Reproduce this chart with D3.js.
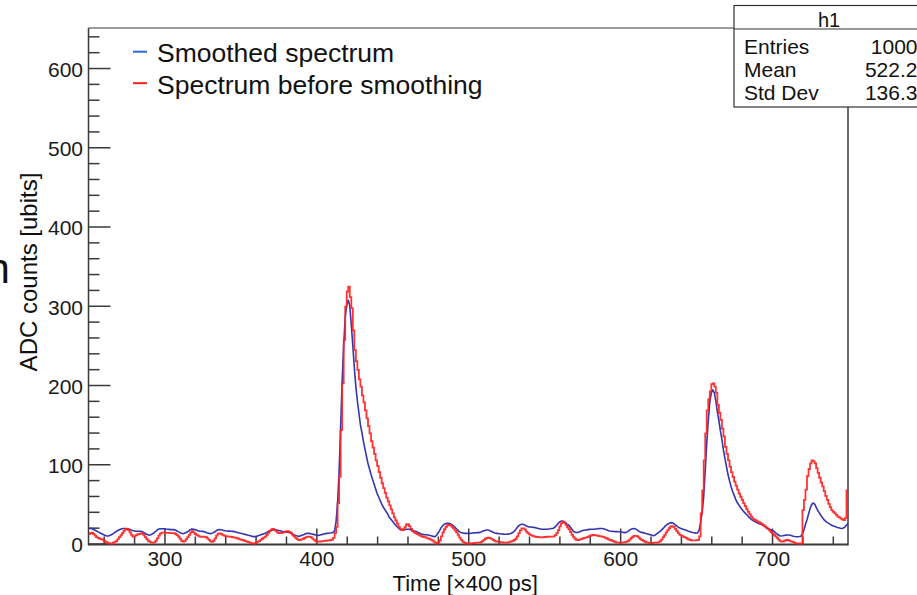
<!DOCTYPE html>
<html>
<head>
<meta charset="utf-8">
<script src="https://cdn.jsdelivr.net/npm/d3@7"></script>
<style>
  html, body { margin: 0; padding: 0; background: #ffffff; }
  svg { display: block; font-family: "Liberation Sans", Arial, Helvetica, sans-serif; }
</style>
</head>
<body>
<svg id="chart" width="917" height="595"></svg>
<script>
// ADC waveform: one value per 400 ps time bin, starting at bin 250
const firstBin = 250;

// Raw waveform (drawn as histogram steps), bins 250..749
const rawCounts = [
  12,13,13.7,12,10,8,7,6,5.5,5,
  3.5,2,1,0.5,0,0,1,2,3,5.5,
  8,10.5,13,16,18,18.5,17,14,11,8.6,
  9,10.5,11.5,12,12.5,12.8,11,8,5.5,3.5,
  2.3,1.5,1,1.5,3.5,6.5,10,12.5,13.7,13.8,
  13.7,13.5,13.5,13.3,13.2,13,13,12,10.5,8.5,
  6,3.5,2.3,3,5.5,8,11,14,15.6,14,
  12,10.5,9.5,8.6,8.5,8.5,8.3,8,6.5,4.5,
  2.8,2,3.5,6.5,10,12.5,12.8,12,11,10,
  9.3,9,8.8,8.6,8.2,7.8,7.3,7,6.3,5.5,
  5,4.4,3.8,3,2.3,1.8,1.2,0.6,0,0,
  1,2,3,4.5,6,7.5,8.6,11,13.5,16,
  17.5,18.3,17.5,16,14,13,13,13.5,14,15,
  15.6,15.6,14.5,13,11,9,7,5.5,4.4,4.5,
  5.3,6,7,8,8.6,8.6,8,6.5,5,3.5,
  2.5,2.3,2.5,2.8,3,3.2,3.5,3.8,4,4.4,
  5,7,13,21,51,84,143,202,257,299,
  318,324,311,297,269,244,230,219,207,198,
  187,178,168,158,148,139,129,121,113,105,
  98,90,83,76,70,64,58,53,48,43,
  38,33,29,25,21,18,17,18,21,24,
  24.5,22,18.5,15.5,14,13,12,11,10,9,
  8.5,8,7.5,6.5,6,5,4,2.5,1,0,
  1,4,9,14,18,21,23,23.5,23,21,
  19,16.5,14,11,7.5,4.5,2.3,1,0.3,0,
  0,0,0.3,0.6,0.8,1,1,1,1.8,3,
  4.5,6,7,7.3,6.8,5.8,4.5,3.3,2.5,2.3,
  2,1.6,1.3,1,1,1,1.5,2,2.8,3.5,
  4.4,6,9,13,16.5,19,19,17.5,15,13,
  11.5,10.5,9.7,9,8.5,8.2,8,7.8,7.8,8,
  8.2,8.4,8.5,8.6,8.7,8.7,9,10.5,13,17,
  21.5,25.5,27.5,26.5,23.5,20.5,18,14.5,11,8,
  6,4.4,4.2,4.8,5.6,6.3,7,7.3,8,9,
  9.8,10.4,10.7,10.6,10.2,9.8,9.4,9,8.7,8,
  7.2,6.3,5.3,4.4,3.8,3,2.2,1.5,1,1,
  1,1,1.3,1.8,2.3,3.5,5,7,8.5,9.5,
  9.7,9,7.3,5.5,4.4,3.2,2.2,1.5,1,0.5,
  0.5,0.8,1,1,1,1.8,3,5,8,11,
  14,17,19.5,21.5,22,21,18.5,15.5,13,11,
  10,9,8,7,6,5,4.4,4,4,4,
  4.2,4.6,9,38,67,105,139,168,182,192,
  201,202,198,190,175,165,156,145,135,122,
  113,105,97,90,84,78,73,68,63,59,
  55,51,47,43,40,37,34,31.5,30,29,
  28,27,26,24.5,23,21.5,20,18.5,16.5,14.5,
  12.5,10.7,9,7,5,3,2.3,2.6,3.5,4.4,
  4.4,3.6,2.8,2.3,1.5,0.5,0,0,0,0,
  42,55,68,85,94,101,105,104,101,95,
  89,83,77,72,66,60,55,50,46,42,
  40,38,36,34,33,31.5,30.5,29.6,32,67
];

// Smoothed waveform (drawn as a polyline), times 250..750
const smoothCounts = [
  19,19,19,18,17,16,15,14,13,12,
  11,10,9.5,9.5,10,11,12,13.5,15,16,
  17,18,18.5,19,19,19,18.5,18,17,16.5,
  16,15.5,15.5,15.5,15.5,15,14.5,13,12,11,
  10.5,11,12,13.5,15,16.5,18,18.5,18.7,18.6,
  18.5,18.2,18,17.8,17.5,17.5,17.5,17,16,15,
  14,13,12.5,12.8,13.5,14.5,16,17.5,18.3,18,
  17.5,17,16,15.6,15.5,15.3,15,14.3,13.5,13,
  12.5,12.8,13.5,14.5,16,17,17.5,17.3,17,16.5,
  16,15.8,15.6,15.6,15.5,15.3,15,14.5,14,13.5,
  13,12.5,12,11.5,11,10.5,10,9.5,9,8.7,
  8.7,9.3,10,10.8,11.5,12,12.5,13.5,14.5,15.5,
  16.5,17.2,17.5,17.3,17,16.5,16,15.5,15,14.7,
  14.5,14.2,14,13.3,12.5,11.5,10.5,9.7,9,9.3,
  10,10.8,11.5,12.3,13,12.8,12.5,12,11.5,11,
  10.5,10.3,10.5,11,11.5,12,12.5,12.8,13,13.3,
  13.5,14,16,28,52,92,148,205,250,285,
  302,307,300,276,250,222,198,180,165,150,
  140,129,119,110,101,94,87,81,75,69,
  63,59,54,50,46,43,40,37,33,31,
  28.5,26,23.5,21.5,19.5,18,17,17,17.5,18,
  18,18,17.5,17,16,15.5,15,14,13,12,
  11.5,11,11,11,10.5,10,9.5,9,8.6,10,
  13,16,19.5,22,24,25,25.5,25.5,25,24,
  22.5,21,19,17,15,14,13.5,13,12.8,12.8,
  12.8,12.8,13,13.2,13.4,13.6,13.7,13.7,14,15,
  16,16.5,17,17,16.5,15.5,14.5,13.5,13,12.8,
  12.5,12.3,12,11.8,11.6,11.6,11.8,12,12.5,13.5,
  15,17,19.5,22,23.5,24.2,24.2,23.5,22.5,21.5,
  21,20.8,20.5,20.4,20,19.5,19,18.5,18,18,
  18,18,18,18.3,18.6,19,19.3,20.5,22.5,25,
  27,28,28.4,27.5,26,24.5,23.3,21,18.5,16,
  14.5,13.8,14,14.5,15.5,16.2,16.8,17,17.2,17.5,
  17.8,18,18,18,18.3,18.6,18.8,19,19,18.6,
  18,17.2,16.5,15.8,15.5,15.3,15.1,15,15,14.9,
  14.8,14.5,14,13.7,14,15,16.5,17.8,18.7,19,
  18.5,17.5,16,14.9,14,13.7,13.2,12.5,12,11.5,
  11,10.5,9.8,10.5,12,13.5,14.8,16.5,18.5,20.5,
  22.5,24,25.3,26,26.3,25.5,24,22.5,21,19.8,
  19,18.3,17.7,17,16.3,15.5,14.9,14.3,13.8,13.4,
  13,13.5,17,27,40,59,92,126,155,178,
  190,194,190,180,166,155,142,131,118,107,
  97,87,79,72,66,61,56,52,49,46,
  43.5,41,39,37,35,33,31,29.5,28.3,27.5,
  26.5,25.5,24.5,24,23.3,22,20.5,19.5,18.5,17.5,
  17,15.5,14,12.5,11,9.8,9.5,9.8,10.2,10.6,
  10.8,10.7,10.3,9.8,9.2,8.8,8.6,8.6,8.8,9.2,
  12,17,24,30,37,44,49,51,50,46,
  42,39,36,33,30.5,28.5,27,25.8,24.5,23.3,
  22.5,21.8,21,20.3,19.8,19.3,19,19.5,21,23,
  25.5
];

// Axis ranges and ticks
const xRange = [250, 750];
const yRange = [0, 650];
const xMajorTicks = [300, 400, 500, 600, 700];
const xMinorTicks = [260, 280, 320, 340, 360, 380, 420, 440, 460, 480, 520, 540, 560, 580, 620, 640, 660, 680, 720, 740];
const yMajorTicks = [0, 100, 200, 300, 400, 500, 600];
const yMinorTicks = [20, 40, 60, 80, 120, 140, 160, 180, 220, 240, 260, 280, 320, 340, 360, 380, 420, 440, 460, 480, 520, 540, 560, 580, 620, 640];

// Legend and statistics box
const seriesNames = ["Smoothed spectrum", "Spectrum before smoothing"];
const seriesColors = ["#3535b0", "#ff2222"];
const legendColors = ["#2a68dc", "#ff1c1c"];
const statsTitle = "h1";
const statLabels = ["Entries", "Mean", "Std Dev"];
const statValues = ["1000", "522.2", "136.3"];

const xTitle = "Time [\u00d7400 ps]";
const yTitle = "ADC counts [ubits]";

const svg = d3.select("#chart");
const frame = { left: 88.5, right: 848, top: 28, bottom: 543.5 };

const x = d3.scaleLinear().domain(xRange).range([frame.left, frame.right]);
const y = d3.scaleLinear().domain(yRange).range([frame.bottom, frame.top + 0.4]);

const axisColor = "#3a3a3a";

// Clip curves to the plotting frame
svg.append("clipPath").attr("id", "frameClip")
  .append("rect")
  .attr("x", frame.left).attr("y", frame.top)
  .attr("width", frame.right - frame.left).attr("height", frame.bottom - frame.top + 2);

// Stray glyph cut by the left border
svg.append("text")
  .attr("x", -13.5).attr("y", 283)
  .attr("font-size", 42).attr("fill", "#111")
  .text("n");

// Frame lines
svg.append("line").attr("x1", frame.left).attr("x2", frame.left)
  .attr("y1", frame.top).attr("y2", frame.bottom + 2)
  .attr("stroke", axisColor).attr("stroke-width", 1.5);
svg.append("line").attr("x1", frame.left).attr("x2", frame.right)
  .attr("y1", frame.top).attr("y2", frame.top)
  .attr("stroke", axisColor).attr("stroke-width", 1.2);
svg.append("line").attr("x1", frame.right).attr("x2", frame.right)
  .attr("y1", frame.top).attr("y2", frame.bottom + 2)
  .attr("stroke", axisColor).attr("stroke-width", 1.5);

// X axis: major and minor ticks pointing into the frame
const xAxisY = frame.bottom + 1;
const gxMinor = svg.append("g").attr("transform", `translate(0,${xAxisY})`)
  .call(d3.axisBottom(x).tickValues(xMinorTicks).tickSize(-8).tickFormat(""));
const gxMajor = svg.append("g").attr("transform", `translate(0,${xAxisY})`)
  .call(d3.axisBottom(x).tickValues(xMajorTicks).tickSize(-16).tickPadding(7).tickFormat(d3.format("d")));

// Y axis
const gyMinor = svg.append("g").attr("transform", `translate(${frame.left},0)`)
  .call(d3.axisLeft(y).tickValues(yMinorTicks).tickSize(-11).tickFormat(""));
const gyMajor = svg.append("g").attr("transform", `translate(${frame.left},0)`)
  .call(d3.axisLeft(y).tickValues(yMajorTicks).tickSize(-22).tickPadding(5.5).tickFormat(d3.format("d")));

[gxMinor, gxMajor, gyMinor, gyMajor].forEach(g => {
  g.select(".domain").remove();
  g.selectAll(".tick line").attr("stroke", axisColor).attr("stroke-width", 1.5);
  g.selectAll(".tick text")
    .attr("font-family", "Liberation Sans, Arial, sans-serif")
    .attr("font-size", 21).attr("fill", "#1a1a1a");
});
gyMajor.selectAll(".tick text").attr("dy", "0.4em");

// Bottom axis line
svg.append("line").attr("x1", frame.left).attr("x2", frame.right)
  .attr("y1", xAxisY).attr("y2", xAxisY)
  .attr("stroke", axisColor).attr("stroke-width", 2.2);

// Curves
const plot = svg.append("g").attr("clip-path", "url(#frameClip)");

const rawPoints = rawCounts.map((v, i) => [firstBin + i, v]);
rawPoints.push([firstBin + rawCounts.length, rawCounts[rawCounts.length - 1]]);
const smoothPoints = smoothCounts.map((v, i) => [firstBin + i, v]);

const stepLine = d3.line().x(d => x(d[0])).y(d => y(d[1])).curve(d3.curveStepAfter);
const smoothLine = d3.line().x(d => x(d[0])).y(d => y(d[1])).curve(d3.curveLinear);

plot.append("path").datum(smoothPoints)
  .attr("d", smoothLine)
  .attr("fill", "none").attr("stroke", seriesColors[0])
  .attr("stroke-width", 1.6).attr("stroke-linejoin", "round");

plot.append("path").datum(rawPoints)
  .attr("d", stepLine)
  .attr("fill", "none").attr("stroke", seriesColors[1])
  .attr("stroke-width", 1.8).attr("opacity", 0.92);

// Legend
const legend = svg.append("g");
seriesNames.forEach((name, i) => {
  const ly = 51.7 + i * 31.5;
  legend.append("line")
    .attr("x1", 133).attr("x2", 147).attr("y1", ly).attr("y2", ly)
    .attr("stroke", legendColors[i]).attr("stroke-width", 2);
  legend.append("text")
    .attr("x", 157).attr("y", ly + 10.5)
    .attr("font-size", 26.5).attr("fill", "#111")
    .text(name);
});

// Statistics box
const box = { x: 734, y: 5.5, w: 192, h: 101.5 };
const stats = svg.append("g");
stats.append("rect")
  .attr("x", box.x).attr("y", box.y).attr("width", box.w).attr("height", box.h)
  .attr("fill", "#ffffff").attr("stroke", "#333").attr("stroke-width", 1.2);
stats.append("line")
  .attr("x1", box.x).attr("x2", box.x + box.w).attr("y1", 29).attr("y2", 29)
  .attr("stroke", "#333").attr("stroke-width", 1.2);
stats.append("text")
  .attr("x", 829).attr("y", 26.5).attr("text-anchor", "middle")
  .attr("font-size", 20).attr("fill", "#111").text(statsTitle);
statLabels.forEach((label, i) => {
  const sy = 54 + i * 23;
  stats.append("text").attr("x", 744).attr("y", sy)
    .attr("font-size", 21).attr("fill", "#111").text(label);
  stats.append("text").attr("x", 917.5).attr("y", sy).attr("text-anchor", "end")
    .attr("font-size", 21).attr("fill", "#111").text(statValues[i]);
});

// Axis titles
svg.append("text")
  .attr("x", (frame.left + frame.right) / 2 - 3).attr("y", 591)
  .attr("text-anchor", "middle").attr("font-size", 22).attr("fill", "#111")
  .text(xTitle);
svg.append("text")
  .attr("transform", "translate(37,272) rotate(-90)")
  .attr("text-anchor", "middle").attr("font-size", 24).attr("fill", "#111")
  .text(yTitle);
</script>
</body>
</html>
